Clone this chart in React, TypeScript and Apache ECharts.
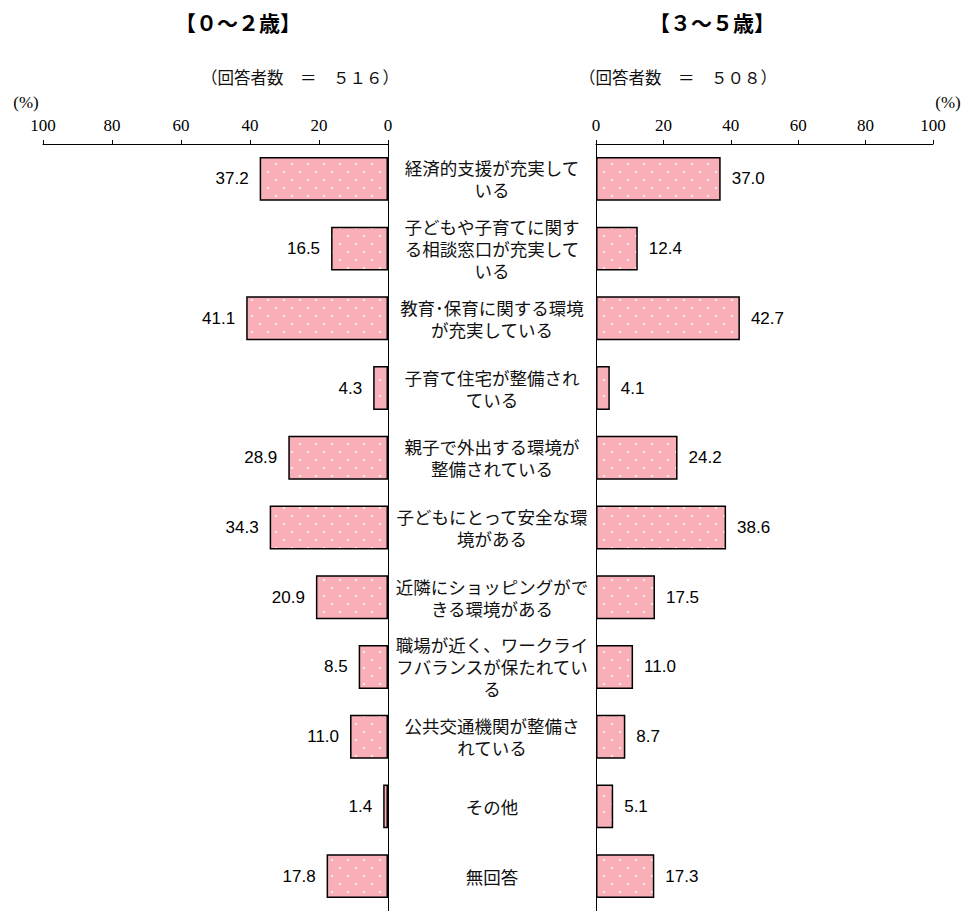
import React, { useEffect, useRef } from "react";
import * as echarts from "echarts";

const categories = [
  "経済的支援が充実して\nいる",
  "子どもや子育てに関す\nる相談窓口が充実して\nいる",
  "教育･保育に関する環境\nが充実している",
  "子育て住宅が整備され\nている",
  "親子で外出する環境が\n整備されている",
  "子どもにとって安全な環\n境がある",
  "近隣にショッピングがで\nきる環境がある",
  "職場が近く、ワークライ\nフバランスが保たれてい\nる",
  "公共交通機関が整備さ\nれている",
  "その他",
  "無回答",
];
const age0to2 = [37.2, 16.5, 41.1, 4.3, 28.9, 34.3, 20.9, 8.5, 11.0, 1.4, 17.8];
const age3to5 = [37.0, 12.4, 42.7, 4.1, 24.2, 38.6, 17.5, 11.0, 8.7, 5.1, 17.3];
const leftTitle = "【０～２歳】";
const rightTitle = "【３～５歳】";
const leftN = "（回答者数　＝　５１６）";
const rightN = "（回答者数　＝　５０８）";

function makePattern(): HTMLCanvasElement {
  const c = document.createElement("canvas");
  c.width = 16;
  c.height = 16;
  const ctx = c.getContext("2d")!;
  ctx.fillStyle = "#F8AFB8";
  ctx.fillRect(0, 0, 16, 16);
  ctx.fillStyle = "#FFFFFF";
  ctx.beginPath();
  ctx.arc(4, 4, 1, 0, Math.PI * 2);
  ctx.fill();
  ctx.beginPath();
  ctx.arc(12, 12, 1, 0, Math.PI * 2);
  ctx.fill();
  return c;
}

export default function App() {
  const ref = useRef<HTMLDivElement>(null);
  useEffect(() => {
    if (!ref.current) return;
    const chart = echarts.init(ref.current, undefined, { renderer: "svg" });
    const pattern = { image: makePattern(), repeat: "repeat" };
    const serif = "'Liberation Serif', 'DejaVu Serif', serif";
    const gothic = "'Noto Sans CJK JP', sans-serif";
    const sans = "'Liberation Sans', Arial, sans-serif";
    const xAxisCommon = {
      type: "value",
      position: "top",
      min: 0,
      max: 100,
      interval: 20,
      axisLine: { show: true, lineStyle: { color: "#000", width: 1 } },
      axisTick: { show: true, inside: false, length: 4, lineStyle: { color: "#000" } },
      axisLabel: { fontFamily: serif, fontSize: 17, color: "#000", margin: 10 },
      splitLine: { show: false },
    };
    const barCommon = {
      type: "bar",
      barCategoryGap: "37%",
      itemStyle: { color: pattern, borderColor: "#000", borderWidth: 1.5 },
      label: {
        show: true,
        distance: 11,
        fontFamily: sans,
        fontSize: 17,
        color: "#000",
        formatter: (p: any) => Number(p.value).toFixed(1),
      },
    };
    chart.setOption({
      animation: false,
      backgroundColor: "#fff",
      grid: [
        { left: 43, right: 578, top: 144, bottom: 0 },
        { left: 596, right: 33, top: 144, bottom: 0 },
      ],
      xAxis: [
        { ...xAxisCommon, gridIndex: 0, inverse: true },
        { ...xAxisCommon, gridIndex: 1 },
      ],
      yAxis: [
        {
          type: "category",
          gridIndex: 0,
          data: categories,
          inverse: true,
          position: "right",
          axisLine: { show: true, lineStyle: { color: "#000", width: 1 } },
          axisTick: { show: false },
          axisLabel: {
            show: true,
            align: "center",
            margin: 104,
            fontFamily: gothic,
            fontSize: 17.5,
            lineHeight: 22,
            color: "#111",
            interval: 0,
          },
        },
        {
          type: "category",
          gridIndex: 1,
          data: categories,
          inverse: true,
          position: "left",
          axisLine: { show: true, lineStyle: { color: "#000", width: 1 } },
          axisTick: { show: false },
          axisLabel: { show: false },
        },
      ],
      series: [
        {
          ...barCommon,
          name: "0～2歳",
          xAxisIndex: 0,
          yAxisIndex: 0,
          data: age0to2,
          label: { ...barCommon.label, position: "left" },
        },
        {
          ...barCommon,
          name: "3～5歳",
          xAxisIndex: 1,
          yAxisIndex: 1,
          data: age3to5,
          label: { ...barCommon.label, position: "right" },
        },
      ],
      graphic: [
        {
          type: "text",
          x: 238,
          y: 22,
          style: { text: leftTitle, font: `bold 21px ${gothic}`, fill: "#000", textAlign: "center", textVerticalAlign: "middle" },
        },
        {
          type: "text",
          x: 712,
          y: 22,
          style: { text: rightTitle, font: `bold 21px ${gothic}`, fill: "#000", textAlign: "center", textVerticalAlign: "middle" },
        },
        {
          type: "text",
          x: 300,
          y: 77,
          style: { text: leftN, font: `16.5px ${gothic}`, fill: "#111", textAlign: "center", textVerticalAlign: "middle" },
        },
        {
          type: "text",
          x: 678,
          y: 77,
          style: { text: rightN, font: `16.5px ${gothic}`, fill: "#111", textAlign: "center", textVerticalAlign: "middle" },
        },
        {
          type: "text",
          x: 26,
          y: 102,
          style: { text: "(%)", font: `17px ${serif}`, fill: "#000", textAlign: "center", textVerticalAlign: "middle" },
        },
        {
          type: "text",
          x: 948,
          y: 102,
          style: { text: "(%)", font: `17px ${serif}`, fill: "#000", textAlign: "center", textVerticalAlign: "middle" },
        },
      ],
    });
    return () => chart.dispose();
  }, []);
  return (
    <div
      ref={ref}
      style={{ position: "fixed", left: 0, top: 0, width: 966, height: 911, background: "#fff" }}
    />
  );
}
